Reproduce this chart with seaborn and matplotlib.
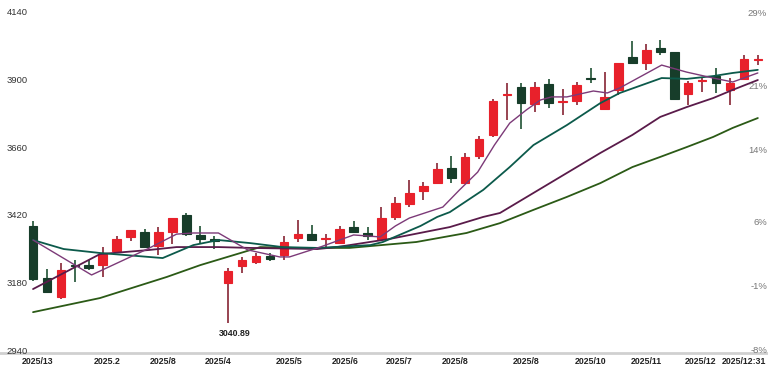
import matplotlib
matplotlib.use("Agg")
import matplotlib.pyplot as plt
import matplotlib.transforms as mtransforms
import numpy as np
import pandas as pd
import seaborn as sns

# candles, one per trading slot
open_ = [3384, 3199, 3132, 3244, 3245, 3245, 3295, 3345, 3362, 3313,
         3362, 3423, 3352, 3336, 3181, 3242, 3256, 3277, 3281, 3341,
         3355, 3338, 3323, 3380, 3359, 3338, 3416, 3462, 3508, 3536,
         3590, 3536, 3632, 3707, 3850, 3877, 3817, 3888, 3824, 3828,
         3909, 3799, 3867, 3984, 3962, 4016, 4001, 3852, 3898, 3916,
         3867, 3906, 3973]
close = [3196, 3149, 3228, 3241, 3235, 3284, 3338, 3370, 3309, 3362,
         3412, 3355, 3338, 3332, 3224, 3263, 3277, 3267, 3327, 3355,
         3334, 3341, 3373, 3362, 3348, 3412, 3465, 3501, 3526, 3586,
         3554, 3629, 3693, 3828, 3854, 3820, 3877, 3820, 3828, 3884,
         3906, 3842, 3962, 3962, 4008, 4001, 3835, 3891, 3902, 3891,
         3891, 3977, 3977]
high = [3401, 3231, 3252, 3263, 3263, 3309, 3348, 3370, 3373, 3380,
        3412, 3430, 3384, 3348, 3235, 3274, 3288, 3288, 3348, 3405,
        3387, 3355, 3384, 3401, 3380, 3451, 3487, 3547, 3540, 3607,
        3632, 3643, 3703, 3835, 3891, 3891, 3895, 3906, 3870, 3895,
        3945, 3930, 3962, 4040, 4030, 4044, 4001, 3898, 3913, 3945,
        3909, 3991, 3991]
low = [3188, 3149, 3125, 3185, 3228, 3203, 3295, 3330, 3309, 3281,
       3320, 3348, 3323, 3302, 3040.89, 3217, 3249, 3260, 3263, 3327,
       3334, 3309, 3323, 3359, 3334, 3338, 3405, 3451, 3476, 3536,
       3536, 3536, 3622, 3700, 3760, 3728, 3788, 3803, 3778, 3813,
       3891, 3799, 3849, 3962, 3938, 3991, 3835, 3813, 3859, 3856,
       3813, 3906, 3955]

# moving average lines, vertices as (slot, value)
ma5_x = [0, 4.2, 8.2, 10.3, 11.5, 13.3, 15.4, 17.7, 18.4, 20.6, 23.0, 24.9,
         26.0, 27.0, 29.4, 30.6, 31.9, 33.1, 34.2, 35.4, 36.4, 37.2, 38.3,
         40.2, 41.2, 42.1, 45.1, 46.9, 48.8, 50.2, 52]
ma5_y = [3334, 3210, 3302, 3355, 3359, 3359, 3299, 3274, 3274, 3309, 3352, 3345,
         3384, 3412, 3451, 3512, 3575, 3671, 3749, 3796, 3831, 3842, 3842,
         3863, 3856, 3874, 3955, 3930, 3909, 3895, 3927]
ma10_x = [0, 2.2, 4.8, 9.3, 11.5, 13.3, 15.6, 17.9, 20.4, 24.2, 25.1, 27.8,
          29.0, 29.9, 32.3, 34.2, 35.9, 38.3, 40.7, 42.1, 45.1, 46.9, 48.8, 50.2, 52]
ma10_y = [3334, 3302, 3288, 3270, 3316, 3334, 3323, 3309, 3306, 3316, 3327, 3384,
          3416, 3433, 3512, 3593, 3671, 3742, 3820, 3856, 3909, 3906, 3916, 3927, 3938]
ma20_x = [0, 4.8, 8.4, 10.3, 13.3, 15.6, 20.4, 21.8, 25.6, 29.9, 32.3, 33.5,
          35.9, 38.3, 40.7, 43.0, 45.0, 46.9, 48.8, 50.2, 52]
ma20_y = [3160, 3284, 3299, 3309, 3309, 3306, 3302, 3309, 3338, 3380, 3416, 3430,
          3501, 3572, 3643, 3707, 3771, 3806, 3838, 3867, 3902]
ma60_x = [0, 4.8, 9.6, 12.0, 16.3, 18.7, 22.7, 27.5, 31.1, 33.5, 35.9, 38.3,
          40.7, 43.0, 45.0, 46.9, 48.8, 50.2, 52]
ma60_y = [3078, 3128, 3203, 3245, 3309, 3306, 3306, 3327, 3359, 3394, 3441, 3487,
          3536, 3593, 3629, 3664, 3700, 3732, 3767]

tick_pos = [0.36, 5.3, 9.3, 13.3, 18.4, 22.4, 26.3, 30.3, 35.4, 40.0, 44.0, 47.9, 52.6]
tick_labels = ["2025/13", "2025.2", "2025/8", "2025/4", "2025/5", "2025/6", "2025/7",
               "2025/8", "2025/8", "2025/10", "2025/11", "2025/12", "2025/12:31"]
price_ticks = [4140, 3900, 3660, 3420, 3180, 2940]
pct_ticks = [29, 21, 14, 6, -1, -8]
pct_labels = ["29%", "21%", "14%", "6%", "-1%", "-8%"]

sns.set_style("white")
plt.rcParams["font.family"] = ["Liberation Sans Narrow", "Liberation Sans", "DejaVu Sans"]

fig = plt.figure(figsize=(7.68, 3.67), dpi=100)
ax = fig.add_axes([0, 14 / 367, 1, 353 / 367])

df = pd.DataFrame({"o": open_, "c": close, "h": high, "l": low})
df["i"] = np.arange(len(df))
up = df["c"] >= df["o"]

for is_up, body_col, wick_col in [(True, "#e8212b", "#862434"), (False, "#173d2a", "#1f5234")]:
    d = df[up == is_up]
    ax.vlines(d["i"], d["l"], d["h"], color=wick_col, lw=1.2, zorder=2)
    ax.bar(d["i"], d["c"] - d["o"], bottom=d["o"], width=0.62,
           color=body_col, edgecolor=body_col, lw=0.8, zorder=3)

sns.lineplot(x=ma60_x, y=ma60_y, ax=ax, color="#2b5a16", lw=1.3, zorder=4)
sns.lineplot(x=ma20_x, y=ma20_y, ax=ax, color="#5a1b4a", lw=1.3, zorder=4)
sns.lineplot(x=ma10_x, y=ma10_y, ax=ax, color="#0c5a4b", lw=1.3, zorder=4)
sns.lineplot(x=ma5_x, y=ma5_y, ax=ax, color="#7c3a78", lw=1.0, zorder=5)

ax.set_xlim(-2.37, 52.73)
ax.set_ylim(2933, 4186)
ax.set_yticks([])
ax.set_xticks(tick_pos, labels=tick_labels, fontsize=6.3, fontweight="bold")
ax.tick_params(axis="x", length=0, pad=2.8, colors="#222222")
ax.get_xticklabels()[-1].set_ha("right")
for side in ["top", "left", "right"]:
    ax.spines[side].set_visible(False)
ax.spines["bottom"].set_color("#d0d0d0")
ax.spines["bottom"].set_linewidth(2)

trans = mtransforms.blended_transform_factory(ax.transAxes, ax.transData)
for v in price_ticks:
    ax.text(0.009, v, str(v), transform=trans, ha="left", va="center",
            fontsize=6.8, color="#333333")

ax2 = ax.twinx()
ax2.set_ylim(-8.33, 30.54)
ax2.set_yticks([])
ax2.axis("off")
trans2 = mtransforms.blended_transform_factory(ax2.transAxes, ax2.transData)
for p, s in zip(pct_ticks, pct_labels):
    ax2.text(0.999, p, s, transform=trans2, ha="right", va="center",
             fontsize=6.8, color="#777777")

ax.annotate("3040.89", xy=(14, low[14]), xytext=(5, -7.5), textcoords="offset points",
            ha="center", va="center", fontsize=6.3, fontweight="bold", color="#222222")

fig.savefig("out.png", dpi=100)
